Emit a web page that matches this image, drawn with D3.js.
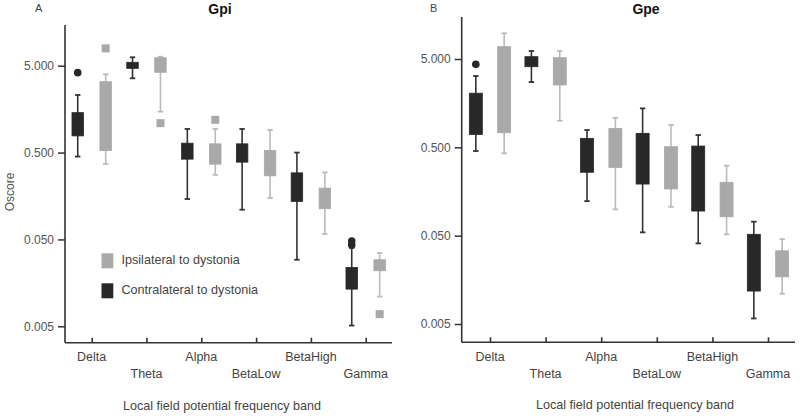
<!DOCTYPE html>
<html>
<head>
<meta charset="utf-8">
<script src="https://cdn.jsdelivr.net/npm/d3@7"></script>
<style>
  body { margin: 0; background: #fff; }
  svg { display: block; font-family: "Liberation Sans", Arial, sans-serif; }
</style>
</head>
<body>
<svg id="chart" width="800" height="416"></svg>
<script>
// ---------------- DATA ----------------
const bands = ["Delta", "Theta", "Alpha", "BetaLow", "BetaHigh", "Gamma"];
const yTickValues = [0.005, 0.05, 0.5, 5];
const yTickLabels = ["0.005", "0.050", "0.500", "5.000"];
const seriesNames = ["Ipsilateral to dystonia", "Contralateral to dystonia"];

// Gpi – contralateral (dark)
const gpiContraLow  = [0.45, 3.58, 0.146, 0.11, 0.0292, 0.0051];
const gpiContraQ1   = [0.778, 4.66, 0.42, 0.388, 0.137, 0.0134];
const gpiContraQ3   = [1.44, 5.47, 0.641, 0.63, 0.292, 0.0238];
const gpiContraHigh = [2.30, 6.25, 0.935, 0.935, 0.50, 0.040];
const gpiContraOut  = [[4.16], [], [], [], [], [0.048, 0.043]];
// Gpi – ipsilateral (light)
const gpiIpsiLow  = [0.37, 1.48, 0.277, 0.15, 0.0577, 0.011];
const gpiIpsiQ1   = [0.527, 4.2, 0.368, 0.27, 0.113, 0.0218];
const gpiIpsiQ3   = [3.27, 6.18, 0.63, 0.527, 0.195, 0.0292];
const gpiIpsiHigh = [3.98, 6.34, 0.935, 0.912, 0.295, 0.0349];
const gpiIpsiOut  = [[7.92], [1.09], [1.19], [], [], [0.0069]];

// Gpe – contralateral (dark)
const gpeContraLow  = [0.454, 2.74, 0.123, 0.0545, 0.0409, 0.00578];
const gpeContraQ1   = [0.70, 4.09, 0.261, 0.192, 0.095, 0.0118];
const gpeContraQ3   = [2.05, 5.31, 0.632, 0.72, 0.517, 0.0518];
const gpeContraHigh = [3.21, 6.16, 0.785, 1.38, 0.689, 0.072];
const gpeContraOut  = [[4.35], [], [], [], [], []];
// Gpe – ipsilateral (light)
const gpeIpsiLow  = [0.428, 1.0, 0.0993, 0.106, 0.0518, 0.011];
const gpeIpsiQ1   = [0.731, 2.54, 0.296, 0.169, 0.0818, 0.0171];
const gpeIpsiQ3   = [6.89, 5.17, 0.82, 0.508, 0.201, 0.0337];
const gpeIpsiHigh = [9.77, 6.16, 1.08, 0.895, 0.310, 0.0457];
const gpeIpsiOut  = [[], [], [], [], [], []];

// ---------------- DRAWING ----------------
const svg = d3.select("#chart");
const DARK = "#282828", DARK_W = "#333333";
const LIGHT = "#a9a9a9", LIGHT_W = "#bbbbbb";

function makeSeries(low, q1, q3, high, out) {
  return bands.map((b, i) => ({ band: b, low: low[i], q1: q1[i], q3: q3[i], high: high[i], out: out[i] }));
}

function drawPanel(cfg) {
  const g = svg.append("g");
  const y = d3.scaleLog().domain([0.005, 5]).range([cfg.y005, cfg.y5]);
  const x = d3.scalePoint().domain(bands).range([cfg.x0, cfg.x1]);
  const step = x.step();
  const off = step * 0.255;

  // panel letter & title
  g.append("text").attr("x", cfg.letterX).attr("y", 12).attr("font-size", 11)
    .attr("fill", "#444").text(cfg.letter);
  g.append("text").attr("x", cfg.titleX).attr("y", 14).attr("font-size", 14)
    .attr("font-weight", "bold").attr("text-anchor", "middle").attr("fill", "#111").text(cfg.title);

  // y axis
  const yAxis = d3.axisLeft(y).tickValues(yTickValues)
    .tickFormat((d, i) => yTickLabels[i]).tickSize(7).tickSizeOuter(0).tickPadding(4);
  const ya = g.append("g").attr("transform", `translate(${cfg.axisX},0)`).call(yAxis);
  ya.select(".domain").remove();
  ya.selectAll(".tick line").attr("stroke", "#333").attr("stroke-width", 1.5);
  ya.selectAll(".tick text").attr("font-size", 12).attr("fill", "#555")
    .attr("font-family", "Liberation Sans, Arial, sans-serif");

  // axis lines
  g.append("line").attr("x1", cfg.axisX).attr("x2", cfg.axisX)
    .attr("y1", cfg.axisTop).attr("y2", cfg.axisBottom)
    .attr("stroke", "#333").attr("stroke-width", 1.6);
  g.append("line").attr("x1", cfg.axisX).attr("x2", cfg.axisRight)
    .attr("y1", cfg.axisBottom).attr("y2", cfg.axisBottom)
    .attr("stroke", "#333").attr("stroke-width", 1.6);

  // x ticks (inward) and labels
  const xAxis = d3.axisTop(x).tickSize(5).tickSizeOuter(0).tickFormat("");
  const xa = g.append("g").attr("transform", `translate(0,${cfg.axisBottom})`).call(xAxis);
  xa.select(".domain").remove();
  xa.selectAll(".tick line").attr("stroke", "#333").attr("stroke-width", 1.6);
  g.selectAll(".bandlabel").data(bands).enter().append("text")
    .attr("x", d => x(d)).attr("y", (d, i) => i % 2 === 0 ? 361 : 378)
    .attr("text-anchor", "middle").attr("font-size", 12.5).attr("fill", "#444").text(d => d);

  // x axis title
  g.append("text").attr("x", cfg.xTitleX).attr("y", cfg.xTitleY).attr("text-anchor", "middle")
    .attr("font-size", 12.6).attr("fill", "#444").text("Local field potential frequency band");

  // boxes
  function drawSeries(data, dx, fill, wcol, outShape) {
    const bw = cfg.boxW;
    const s = g.append("g");
    data.forEach(d => {
      const cx = x(d.band) + dx;
      s.append("line").attr("x1", cx).attr("x2", cx).attr("y1", y(d.low)).attr("y2", y(d.high))
        .attr("stroke", wcol).attr("stroke-width", 1.6);
      [d.low, d.high].forEach(v => {
        s.append("line").attr("x1", cx - 2.7).attr("x2", cx + 2.7).attr("y1", y(v)).attr("y2", y(v))
          .attr("stroke", wcol).attr("stroke-width", 1.8);
      });
      s.append("rect").attr("x", cx - bw / 2).attr("width", bw)
        .attr("y", y(d.q3)).attr("height", y(d.q1) - y(d.q3)).attr("fill", fill)
        .attr("stroke", fill).attr("stroke-width", 0.8);
      d.out.forEach(v => {
        if (outShape === "circle") {
          s.append("circle").attr("cx", cx).attr("cy", y(v)).attr("r", 3.8).attr("fill", fill);
        } else {
          s.append("rect").attr("x", cx - 4).attr("y", y(v) - 4).attr("width", 8).attr("height", 8).attr("fill", fill);
        }
      });
    });
  }
  drawSeries(cfg.contra, -off, DARK, DARK_W, "circle");
  drawSeries(cfg.ipsi, off, LIGHT, LIGHT_W, "square");
  return g;
}

drawPanel({
  letter: "A", letterX: 35, title: "Gpi", titleX: 220,
  y005: 326.3, y5: 65.7, x0: 91.7, x1: 365.7,
  axisX: 65, axisTop: 25, axisBottom: 342.7, axisRight: 392,
  xTitleX: 222, xTitleY: 410, boxW: 11.5,
  contra: makeSeries(gpiContraLow, gpiContraQ1, gpiContraQ3, gpiContraHigh, gpiContraOut),
  ipsi: makeSeries(gpiIpsiLow, gpiIpsiQ1, gpiIpsiQ3, gpiIpsiHigh, gpiIpsiOut)
});

drawPanel({
  letter: "B", letterX: 430, title: "Gpe", titleX: 646,
  y005: 324, y5: 59, x0: 490, x1: 768,
  axisX: 461.7, axisTop: 17, axisBottom: 342.3, axisRight: 795,
  xTitleX: 635, xTitleY: 409, boxW: 13,
  contra: makeSeries(gpeContraLow, gpeContraQ1, gpeContraQ3, gpeContraHigh, gpeContraOut),
  ipsi: makeSeries(gpeIpsiLow, gpeIpsiQ1, gpeIpsiQ3, gpeIpsiHigh, gpeIpsiOut)
});

// y-axis label (left panel only)
svg.append("text").attr("transform", "translate(14,192) rotate(-90)").attr("text-anchor", "middle")
  .attr("font-size", 12).attr("fill", "#555").text("Oscore");

// legend (left panel)
const legend = svg.append("g").attr("transform", "translate(101.5,253.3)");
const legendColors = [LIGHT, DARK];
legend.selectAll("rect").data(seriesNames).enter().append("rect")
  .attr("x", 0).attr("y", (d, i) => i * 30).attr("width", 11.8).attr("height", 15)
  .attr("fill", (d, i) => legendColors[i]);
legend.selectAll("text").data(seriesNames).enter().append("text")
  .attr("x", 20).attr("y", (d, i) => 10.5 + i * 30).attr("font-size", 12.6).attr("fill", "#444")
  .text(d => d);
</script>
</body>
</html>
